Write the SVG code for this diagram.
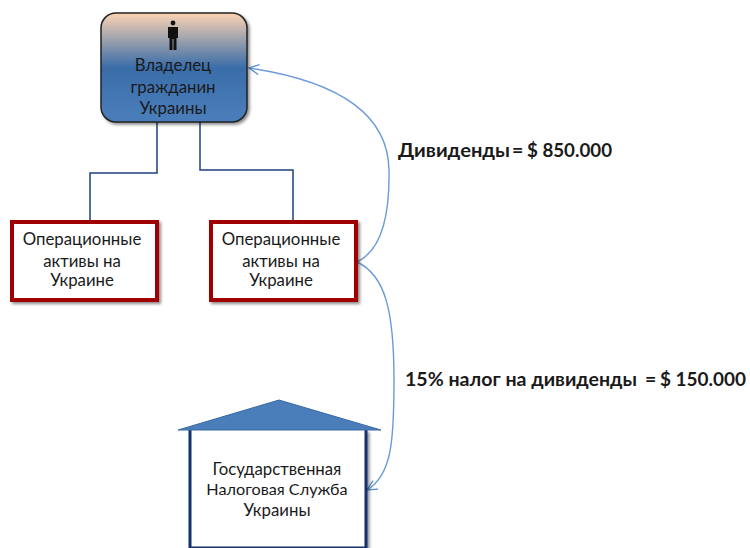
<svg xmlns="http://www.w3.org/2000/svg" width="750" height="548" viewBox="0 0 750 548">
<defs>
<linearGradient id="g" x1="0" y1="0" x2="0" y2="1"><stop offset="0" stop-color="#fbd3b2"/><stop offset="0.5" stop-color="#3a6da8"/><stop offset="1" stop-color="#4a7ebb"/></linearGradient>
<filter id="s" x="-10%" y="-10%" width="125%" height="125%"><feDropShadow dx="2" dy="2" stdDeviation="1.5" flood-color="#000" flood-opacity="0.45"/></filter>
<marker id="a" viewBox="0 0 12 12" refX="11" refY="6" markerWidth="12" markerHeight="12" orient="auto" markerUnits="userSpaceOnUse"><path d="M1 1L11 6L1 11" fill="none" stroke="#5b8fd0" stroke-width="1.3"/></marker>
</defs>
<style>
text{font-family:"Lato","Open Sans","Liberation Sans",sans-serif;fill:#1a1a1a}
.t{font-size:16.8px;text-anchor:middle}
.b{font-size:19.5px;font-weight:700}
.red{fill:#fff;stroke:#a00000;stroke-width:4;filter:url(#s)}
.c{fill:none;stroke:#1f3f7f;stroke-width:1.5}
.e{fill:none;stroke:#6a9bd8;stroke-width:1.4}
</style>
<rect width="750" height="548" fill="#fff"/>
<g id="connectors">
<path class="c" d="M157 122V173H90V221"/>
<path class="c" d="M200 122V170H293V221"/>
<path class="e" marker-end="url(#a)" d="M357 262C378 252 390 225 389 170C388 110 330 80 249 68"/>
<path class="e" marker-end="url(#a)" d="M357 262C385 275 394 310 394 380C394 440 392 475 367 490"/>
</g>
<g id="owner">
<rect x="101" y="13" width="146" height="109" rx="15" fill="url(#g)" stroke="#222" stroke-width="1.5" filter="url(#s)"/>
<g fill="#111"><circle cx="173" cy="23" r="2.4"/><path d="M168 27H178L178 38H176.5V50H173.5V39H172.5V50H169.5V38H168Z"/></g>
<text class="t" x="173" y="71">Владелец</text>
<text class="t" x="173" y="93">гражданин</text>
<text class="t" x="173" y="114">Украины</text>
</g>
<g id="asset1">
<rect class="red" x="12" y="222" width="145" height="78"/>
<text class="t" x="82" y="245">Операционные</text>
<text class="t" x="82" y="267">активы на</text>
<text class="t" x="82" y="286">Украине</text>
</g>
<g id="asset2">
<rect class="red" x="211" y="222" width="145" height="78"/>
<text class="t" x="281" y="245">Операционные</text>
<text class="t" x="281" y="267">активы на</text>
<text class="t" x="281" y="286">Украине</text>
</g>
<g id="tax">
<path d="M190 430V548H366V430" fill="#fff" stroke="#12306e" stroke-width="3" filter="url(#s)"/>
<path d="M178 430L279 400L381 430Z" fill="#4a7ebb" stroke="#3a6a9f" stroke-width="1"/>
<text class="t" x="277" y="475">Государственная</text>
<text class="t" x="277" y="495" style="font-size:16.2px">Налоговая Служба</text>
<text class="t" x="277" y="516">Украины</text>
</g>
<g id="label-dividends"><text class="b" y="157"><tspan x="398" textLength="112" lengthAdjust="spacingAndGlyphs">Дивиденды</tspan><tspan x="512">=</tspan><tspan x="527" textLength="85" lengthAdjust="spacingAndGlyphs">$ 850.000</tspan></text></g>
<g id="label-tax"><text class="b" y="386"><tspan x="405" textLength="232" lengthAdjust="spacingAndGlyphs">15% налог на дивиденды</tspan><tspan x="645">=</tspan><tspan x="660" textLength="86" lengthAdjust="spacingAndGlyphs">$ 150.000</tspan></text></g>
</svg>
